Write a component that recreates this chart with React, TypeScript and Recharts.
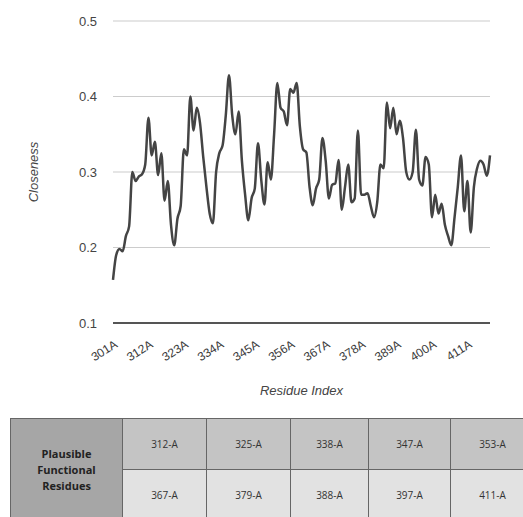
import { CartesianGrid, Label, Line, LineChart, XAxis, YAxis } from 'recharts';

// residues 301A .. 418A
const RESIDUES = Array.from({ length: 118 }, (_, i) => `${301 + i}A`);

const CLOSENESS = [
  0.157, 0.19, 0.198, 0.195, 0.215, 0.228, 0.3, 0.288, 0.294, 0.297,
  0.31, 0.372, 0.322, 0.34, 0.296, 0.325, 0.262, 0.288, 0.23, 0.203,
  0.238, 0.255, 0.33, 0.322, 0.4, 0.355, 0.385, 0.365, 0.32, 0.28,
  0.245, 0.232, 0.3, 0.325, 0.335, 0.375, 0.428, 0.375, 0.35, 0.38,
  0.315, 0.27, 0.236, 0.265, 0.278, 0.338, 0.29, 0.257, 0.313, 0.29,
  0.35, 0.418, 0.385, 0.38, 0.362, 0.41, 0.405, 0.418, 0.36, 0.33,
  0.326, 0.28, 0.256, 0.278, 0.29, 0.345, 0.315, 0.265, 0.283, 0.285,
  0.316, 0.25, 0.28, 0.31, 0.26, 0.265, 0.355, 0.27, 0.27, 0.272,
  0.255, 0.24, 0.26, 0.31, 0.305, 0.392, 0.358, 0.385, 0.35, 0.368,
  0.345, 0.3, 0.29, 0.3, 0.356, 0.29, 0.282, 0.32, 0.31, 0.24,
  0.27, 0.245, 0.258, 0.23, 0.215, 0.203, 0.24, 0.28, 0.322, 0.248,
  0.288, 0.22, 0.28, 0.305, 0.315, 0.31, 0.295, 0.322,
];

const Y_TICKS = [0.1, 0.2, 0.3, 0.4, 0.5];

const TABLE_HEAD = ['Plausible', 'Functional', 'Residues'];
const TABLE_ROW_1 = ['312-A', '325-A', '338-A', '347-A', '353-A'];
const TABLE_ROW_2 = ['367-A', '379-A', '388-A', '397-A', '411-A'];
const COL_WIDTHS = [112, 84, 84, 78, 82, 84];

const data = RESIDUES.map((r, i) => ({ residue: r, closeness: CLOSENESS[i] }));

const FONT = '"Liberation Sans", Arial, sans-serif';

function RotTick(props: any) {
  const { x, y, payload } = props;
  return (
    <g transform={`translate(${x + 3},${y + 12}) rotate(-32)`}>
      <text textAnchor="end" dy="0.35em" fill="#3a3a3a" fontSize={12} fontFamily={FONT}>
        {payload.value}
      </text>
    </g>
  );
}

const cell = (bg: string): React.CSSProperties => ({
  background: bg,
  border: '1px solid #666',
  textAlign: 'center',
  verticalAlign: 'middle',
  padding: 0,
  color: '#333',
  fontSize: 10,
});

export default function App() {
  return (
    <div style={{ position: 'absolute', left: 0, top: 0, width: 523, height: 517, overflow: 'hidden', background: '#fff' }}>
      <LineChart width={523} height={400} data={data} margin={{ top: 21, right: 33, bottom: 0, left: 0 }}>
        <CartesianGrid vertical={false} stroke="#ccc" strokeWidth={1.2} />
        <XAxis
          dataKey="residue"
          interval={10}
          height={77}
          tickLine={false}
          axisLine={{ stroke: '#555', strokeWidth: 2 }}
          tick={<RotTick />}
        >
          <Label
            value="Residue Index"
            position="insideBottom"
            offset={5}
            fill="#444"
            fontSize={13}
            fontStyle="italic"
            fontFamily={FONT}
          />
        </XAxis>
        <YAxis
          type="number"
          domain={[0.1, 0.5]}
          ticks={Y_TICKS}
          width={113}
          tickLine={false}
          axisLine={false}
          tickSize={0}
          tickMargin={16}
          tick={{ fill: '#444', fontSize: 13, fontFamily: FONT }}
        >
          <Label
            content={() => (
              <text
                x={35}
                y={172}
                transform="rotate(-90 35 172)"
                textAnchor="middle"
                dominantBaseline="middle"
                fill="#444"
                fontSize={13}
                fontStyle="italic"
                fontFamily={FONT}
              >
                Closeness
              </text>
            )}
          />
        </YAxis>
        <Line
          type="monotone"
          dataKey="closeness"
          stroke="#444"
          strokeWidth={2.5}
          dot={false}
          isAnimationActive={false}
        />
      </LineChart>
      <table
        style={{
          position: 'absolute',
          left: 10,
          top: 418,
          width: COL_WIDTHS.reduce((a, b) => a + b, 0),
          borderCollapse: 'collapse',
          fontFamily: '"Open Sans", "Noto Sans", sans-serif',
          tableLayout: 'fixed',
        }}
      >
        <colgroup>
          {COL_WIDTHS.map((w, i) => (
            <col key={i} style={{ width: w }} />
          ))}
        </colgroup>
        <tbody>
          <tr style={{ height: 51 }}>
            <td
              rowSpan={2}
              style={{ ...cell('#a6a6a6'), fontWeight: 700, fontSize: 11, color: '#222', lineHeight: '16px' }}
            >
              {TABLE_HEAD.map(t => (
                <div key={t}>{t}</div>
              ))}
            </td>
            {TABLE_ROW_1.map(t => (
              <td key={t} style={cell('#c4c4c4')}>{t}</td>
            ))}
          </tr>
          <tr style={{ height: 51 }}>
            {TABLE_ROW_2.map(t => (
              <td key={t} style={cell('#e2e2e2')}>{t}</td>
            ))}
          </tr>
        </tbody>
      </table>
    </div>
  );
}
